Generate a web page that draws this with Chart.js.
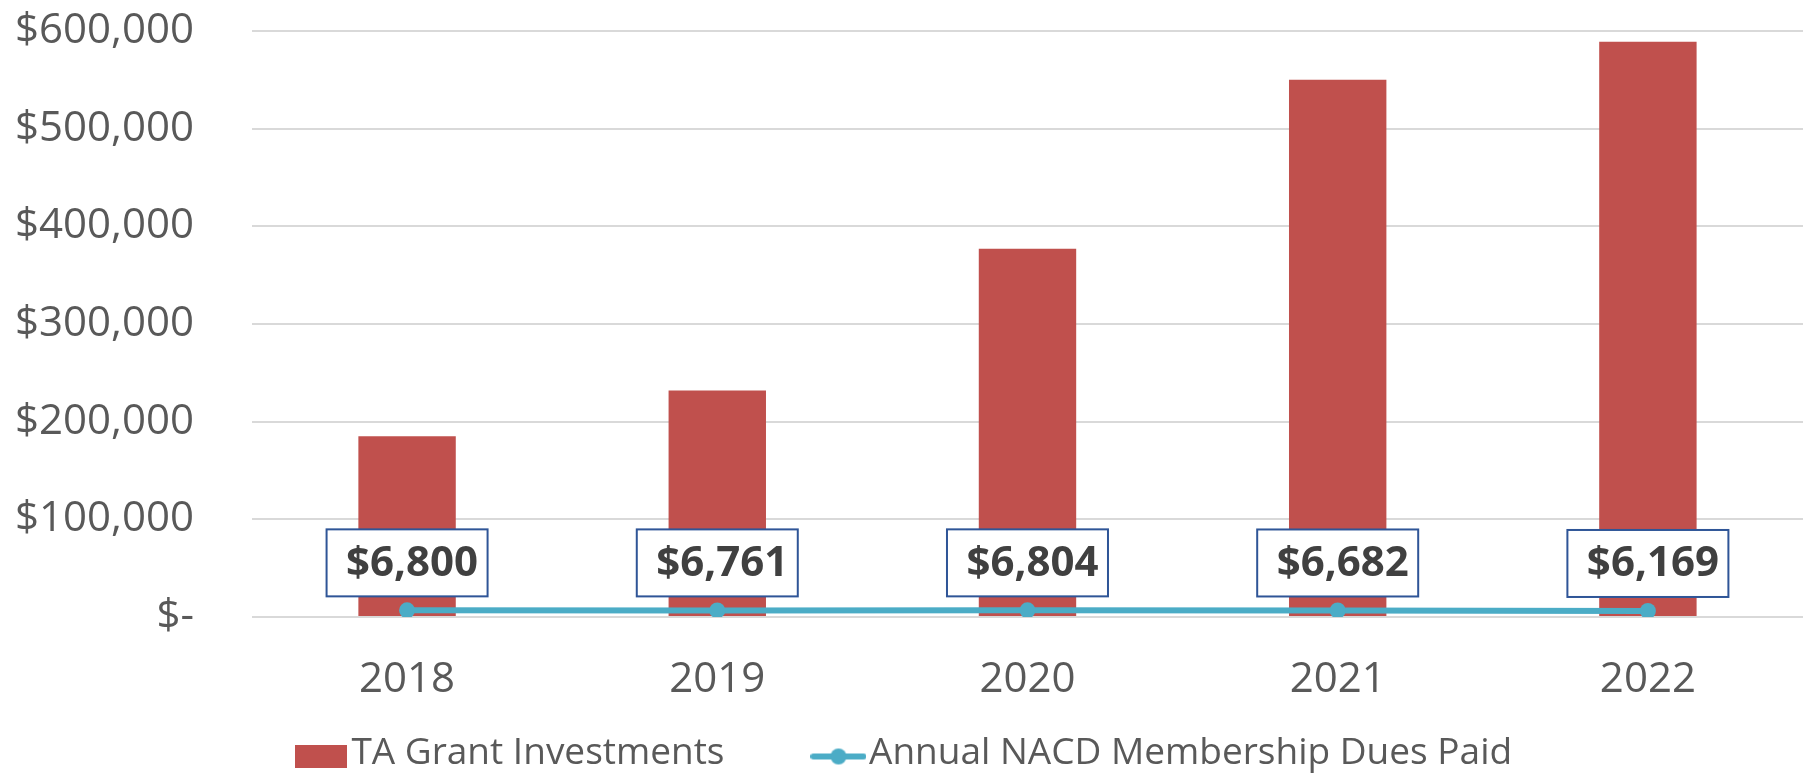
<!DOCTYPE html>
<html>
<head>
<meta charset="utf-8">
<script src="https://cdn.jsdelivr.net/npm/chart.js@4"></script>
<style>
  html, body { margin: 0; padding: 0; background: #fff; }
  #wrap { width: 1811px; height: 777px; }
</style>
</head>
<body>
<div id="wrap"><canvas id="myChart"></canvas></div>
<script>
const years = ['2018', '2019', '2020', '2021', '2022'];
const grantInvestments = [185000, 232000, 377000, 550000, 589000];
const duesPaid = [6800, 6761, 6804, 6682, 6169];
const yTicks = [0, 100000, 200000, 300000, 400000, 500000, 600000];

const barColor = '#C0504D';
const lineColor = '#4BACC6';
const textColor = '#595959';

// legend icons (drawn 3px low so they line up with the text)
const makeIcon = (w, h, draw) => {
  const c = document.createElement('canvas');
  c.width = w; c.height = h;
  draw(c.getContext('2d'));
  return c;
};
const barIcon = makeIcon(52, 29, g => { g.fillStyle = barColor; g.fillRect(0, 6, 52, 23); });
const lineIcon = makeIcon(56, 24, g => {
  g.strokeStyle = lineColor; g.lineWidth = 6; g.lineCap = 'round';
  g.beginPath(); g.moveTo(3, 15); g.lineTo(53, 15); g.stroke();
  g.fillStyle = lineColor;
  g.beginPath(); g.arc(28, 15, 8, 0, Math.PI * 2); g.fill();
});

const money = v => '$' + v.toLocaleString('en-US');

const boxLabels = {
  id: 'boxLabels',
  afterDatasetsDraw(chart) {
    const meta = chart.getDatasetMeta(1);
    const ctx = chart.ctx;
    ctx.save();
    ctx.font = 'bold 42px "Open Sans"';
    ctx.textAlign = 'center';
    ctx.textBaseline = 'middle';
    meta.data.forEach((pt, i) => {
      const w = 161, h = 67;
      const x = pt.x - w / 2, y = pt.y - 14 - h;
      ctx.fillStyle = '#fff';
      ctx.fillRect(x, y, w, h);
      ctx.strokeStyle = '#2F5597';
      ctx.lineWidth = 2;
      ctx.strokeRect(x, y, w, h);
      ctx.fillStyle = '#404040';
      ctx.fillText(money(duesPaid[i]), pt.x + 5, y + h / 2 + 1);
    });
    ctx.restore();
  }
};

new Chart(document.getElementById('myChart').getContext('2d'), {
  data: {
    labels: years,
    datasets: [
      {
        type: 'bar',
        label: 'TA Grant Investments',
        data: grantInvestments,
        backgroundColor: barColor,
        categoryPercentage: 1,
        barPercentage: 0.314,
        order: 2
      },
      {
        type: 'line',
        label: 'Annual NACD Membership Dues Paid',
        data: duesPaid,
        borderColor: lineColor,
        backgroundColor: lineColor,
        borderWidth: 6,
        pointRadius: 8,
        pointBorderWidth: 0,
        pointBackgroundColor: lineColor,
        tension: 0,
        order: 1
      }
    ]
  },
  options: {
    responsive: true,
    maintainAspectRatio: false,
    animation: false,
    layout: { padding: { top: 31, left: 15, right: 5, bottom: -5 } },
    scales: {
      x: {
        grid: { display: false, drawTicks: false },
        border: { display: false },
        ticks: { color: textColor, font: { family: 'Open Sans', size: 42 }, padding: 38 },
        afterFit: axis => { axis.height = 90; }
      },
      y: {
        min: 0,
        max: 600000,
        afterBuildTicks: axis => { axis.ticks = yTicks.map(v => ({ value: v })); },
        grid: { color: '#D9D9D9', lineWidth: 2, drawTicks: true, tickLength: 58, tickColor: 'rgba(0,0,0,0)' },
        border: { display: false },
        ticks: {
          color: textColor,
          font: { family: 'Open Sans', size: 42 },
          padding: 0,
          callback: v => v === 0 ? '$-' : money(v)
        }
      }
    },
    plugins: {
      tooltip: { enabled: false },
      legend: {
        position: 'bottom',
        labels: {
          color: textColor,
          font: { family: 'Open Sans', size: 37 },
          usePointStyle: true,
          pointStyleWidth: 24,
          padding: 28,
          sort: (a, b) => a.datasetIndex - b.datasetIndex,
          generateLabels: chart => {
            const items = Chart.defaults.plugins.legend.labels.generateLabels(chart);
            items.forEach(it => {
              it.pointStyle = it.datasetIndex === 0 ? barIcon : lineIcon;
              // wider gap after the first entry, like the original
              if (it.datasetIndex === 0) it.text += '\u2003\u2003';
            });
            return items;
          }
        }
      }
    }
  },
  plugins: [boxLabels]
});
</script>
</body>
</html>
